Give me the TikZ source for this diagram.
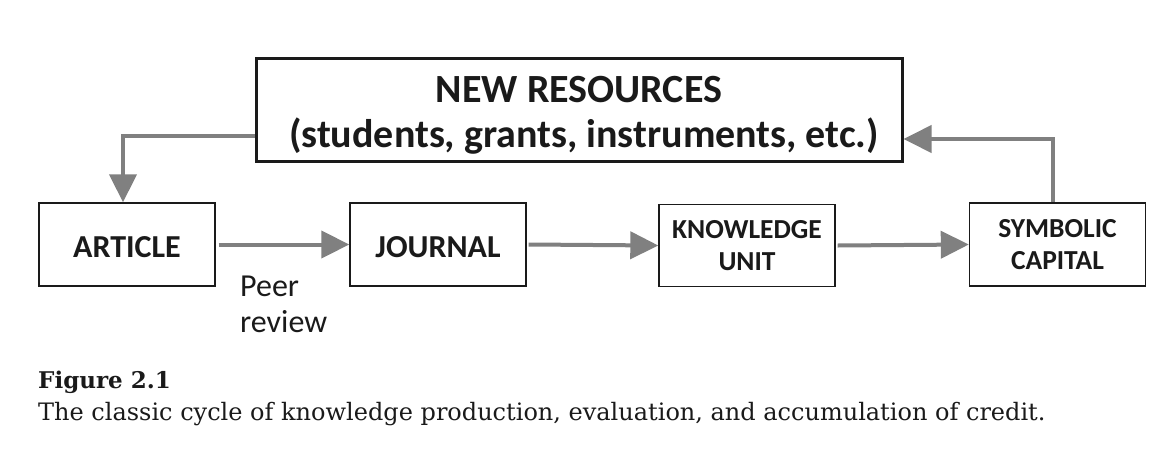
\documentclass[tikz,border=0pt]{standalone}
\usepackage{fontspec}
\newfontfamily\calib{Carlito}
\newfontfamily\capserif{DejaVu Serif}
\usetikzlibrary{arrows.meta}
\definecolor{arrgray}{RGB}{128,128,128}
\definecolor{ink}{RGB}{26,26,26}
\tikzset{
  arr/.style={draw=arrgray, line width=4pt, -{Triangle[length=28pt,width=27pt]}},
  basebox/.style={draw=ink, line width=1.4pt, fill=white, minimum width=176pt, minimum height=83pt,
    inner sep=0pt, text=ink, align=center},
  smallbox/.style={basebox, font=\calib\bfseries\fontsize{32}{38}\selectfont,
    text height=25pt, text depth=0pt},
  twobox/.style={basebox, font=\calib\bfseries\fontsize{27.5}{32}\selectfont},
  bigbox/.style={draw=ink, line width=3pt, fill=white, minimum width=646pt, minimum height=103pt, inner sep=0pt},
  bigtext/.style={anchor=base, inner sep=0pt, text=ink, font=\calib\bfseries\fontsize{40}{44}\selectfont},
  note/.style={anchor=base west, inner sep=0pt, align=left, text=ink, font=\calib\fontsize{32}{36}\selectfont},
  captext/.style={anchor=base west, inner sep=0pt, text=ink}
}
\begin{document}
\begin{tikzpicture}[x=1pt, y=-1pt]
\useasboundingbox[fill=white] (0,0) rectangle (1172,474);
% big box
\node[bigbox] (res) at (579,109.5) {};
\node[bigtext] (resA) at (579,102.7) {NEW RESOURCES};
\node[bigtext] (resB) at (584,147) {(students, grants, instruments, etc.)};
% small boxes
\node[smallbox] (art) at (127,244.5) {ARTICLE};
\node[smallbox] (jou) at (438,244.5) {JOURNAL};
\node[twobox, minimum height=82pt] (ku) at (747,245.5) {KNOWLEDGE\\UNIT};
\node[twobox] (sc) at (1057.5,244.5) {SYMBOLIC\\CAPITAL};
% label
\node[note] (pr) at (240,332.7) {Peer\\review};
% arrows
\draw[arr] ([xshift=3pt]art.east) -- (jou.west);
\draw[arr] ([xshift=2pt]jou.east) -- (ku.west);
\draw[arr] ([xshift=2pt]ku.east) -- (sc.west);
\coordinate (resL) at (res.west |- 0,136);
\coordinate (resR) at (res.east |- 0,139);
\draw[arr] (resL) -| ([xshift=-4pt]art.north);
\draw[arr] ([xshift=-4.5pt]sc.north) |- (resR);
% caption
\node[captext, font=\capserif\bfseries\fontsize{23}{28}\selectfont] (figno) at (38,388) {Figure 2.1};
\node[captext, font=\capserif\fontsize{24}{28}\selectfont] (caption) at (38,420) {The classic cycle of knowledge production, evaluation, and accumulation of credit.};
\end{tikzpicture}
\end{document}
